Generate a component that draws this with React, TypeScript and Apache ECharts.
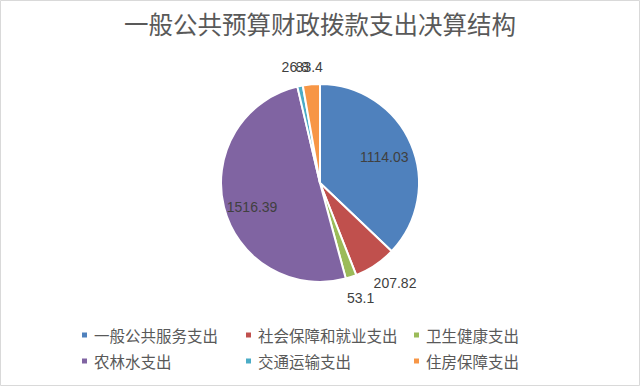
import React, { useEffect, useRef } from "react";
import * as echarts from "echarts";

const categories = ["一般公共服务支出", "社会保障和就业支出", "卫生健康支出", "农林水支出", "交通运输支出", "住房保障支出"];
const values = [1114.03, 207.82, 53.1, 1516.39, 26.8, 83.4];
const colors = ["#4F81BD", "#C0504D", "#9BBB59", "#8064A2", "#4BACC6", "#F79646"];
const insideLabel = [true, false, false, true, false, false];
const labelShift = [
  [16, -5],
  [-10, 13],
  [-11, 15],
  [-17, 11],
  [15, -13],
  [17, -11],
];

export default function App() {
  const ref = useRef<HTMLDivElement>(null);
  useEffect(() => {
    document.body.style.margin = "0";
    const chart = echarts.init(ref.current!, null, { renderer: "svg" });
    const font = "'Noto Sans CJK SC', 'Noto Sans', sans-serif";
    chart.setOption({
      animation: false,
      backgroundColor: "#ffffff",
      color: colors,
      title: {
        text: "一般公共预算财政拨款支出决算结构",
        left: "center",
        top: 6,
        textStyle: { fontFamily: font, fontSize: 24.5, fontWeight: "normal", color: "#595959" },
      },
      graphic: [
        {
          type: "rect",
          shape: { x: 0.5, y: 0.5, width: 639, height: 385 },
          style: { fill: "none", stroke: "#d9d9d9", lineWidth: 1 },
          silent: true,
        },
      ],
      legend: [
        [0, 3, 75],
        [1, 4, 239],
        [2, 5, 407],
      ].map(([a, b, left]) => ({
        orient: "vertical",
        left,
        top: 322,
        itemWidth: 7,
        itemHeight: 7,
        itemGap: 10,
        icon: "rect",
        selectedMode: false,
        data: [categories[a], categories[b]],
        textStyle: { fontFamily: font, fontSize: 15.5, color: "#595959", lineHeight: 16, padding: [0, 0, 0, 1] },
      })),
      series: [
        {
          type: "pie",
          center: [320, 183],
          radius: 99,
          startAngle: 90,
          clockwise: true,
          avoidLabelOverlap: false,
          itemStyle: { borderColor: "#ffffff", borderWidth: 2 },
          labelLine: { show: false, length: 6, length2: 0 },
          label: {
            fontFamily: "'Liberation Sans', Arial, sans-serif",
            fontSize: 14,
            color: "#404040",
          },
          labelLayout: (p: any) => {
            const s = labelShift[p.dataIndex];
            return { dx: s[0], dy: s[1] };
          },
          data: categories.map((name, i) => ({
            name,
            value: values[i],
            label: { position: insideLabel[i] ? "inside" : "outside", formatter: String(values[i]) },
          })),
        },
      ],
    });
    return () => chart.dispose();
  }, []);
  return <div ref={ref} style={{ width: 640, height: 386 }} />;
}
